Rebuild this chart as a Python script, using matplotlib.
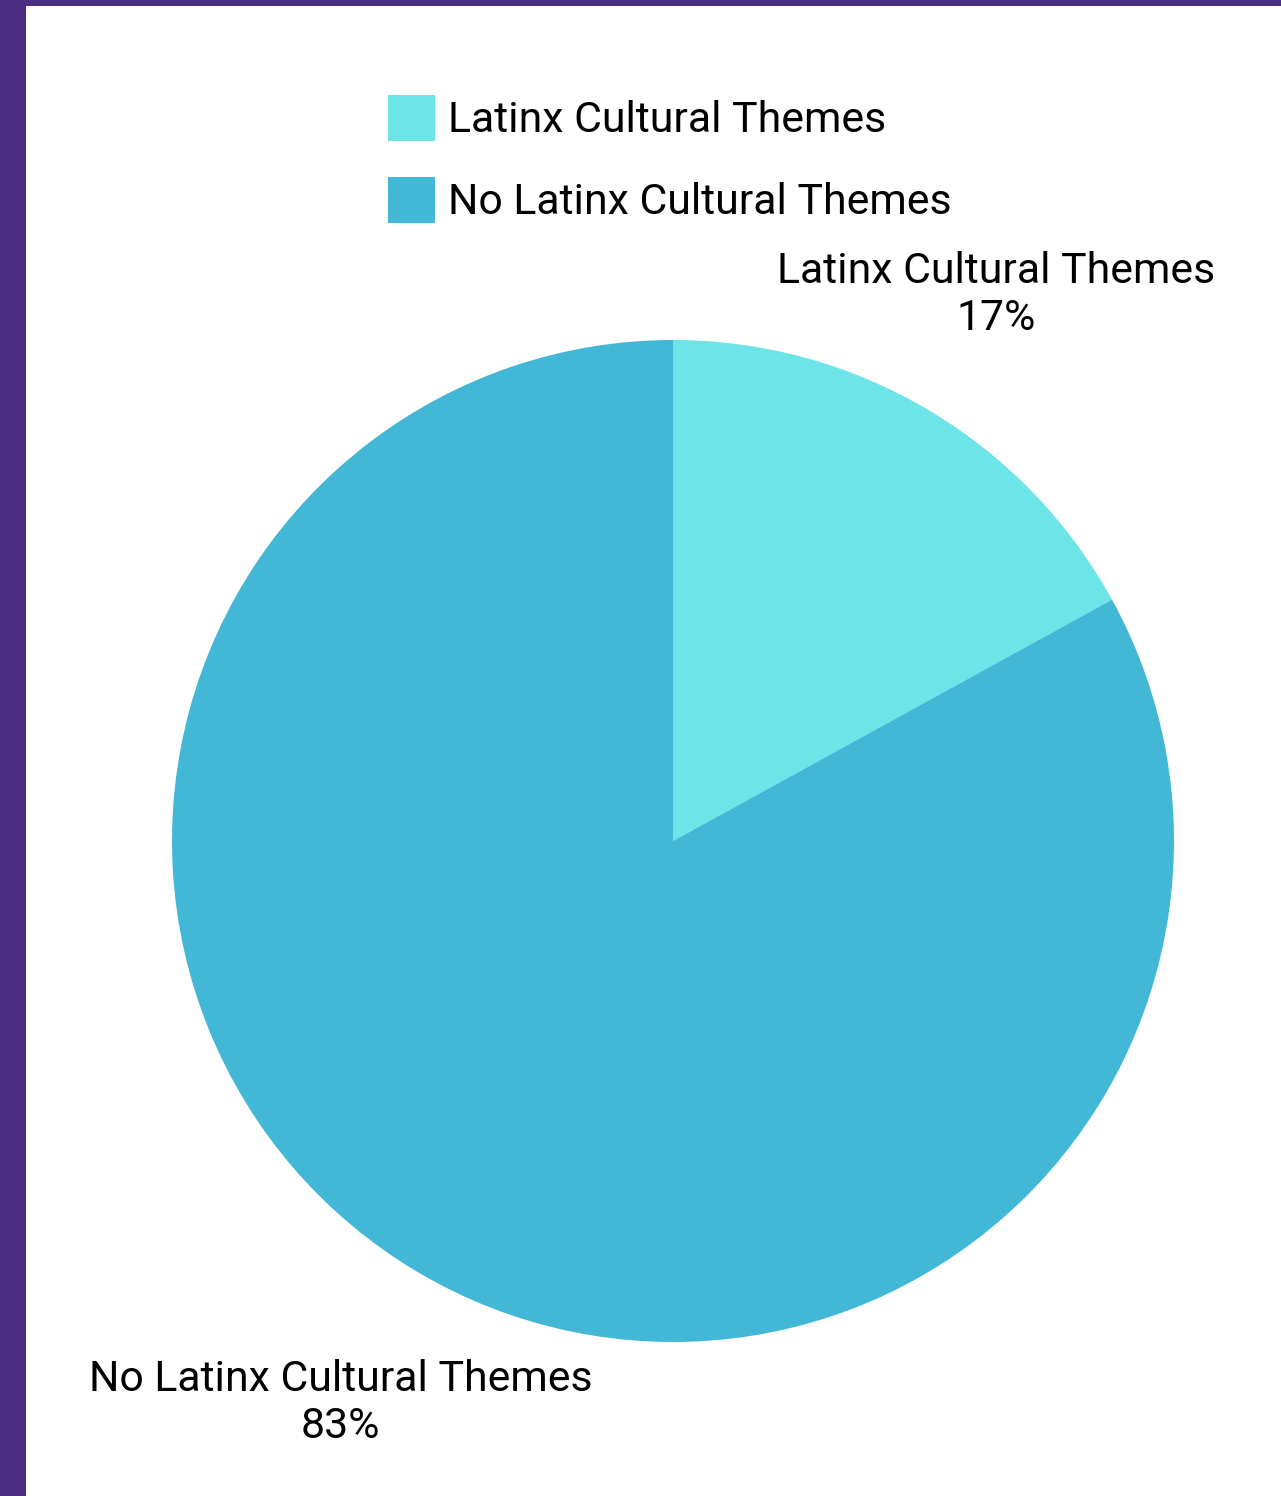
import numpy as np
import matplotlib.pyplot as plt
from matplotlib.patches import Rectangle

categories = ['Latinx Cultural Themes', 'No Latinx Cultural Themes']
shares = [17, 83]
colors = ['#6CE4E8', '#42B7D6']
border = '#4B2D82'

W, H = 1281, 1496
FS = 30.8
plt.rcParams['font.family'] = ['Roboto', 'DejaVu Sans']

fig = plt.figure(figsize=(W / 100, H / 100), dpi=100, facecolor='white')

# purple frame along the left and top edges
fig.patches.append(Rectangle((0, 0), 26 / W, 1, transform=fig.transFigure,
                             facecolor=border, edgecolor='none', zorder=0))
fig.patches.append(Rectangle((0, 1 - 6 / H), 1, 6 / H, transform=fig.transFigure,
                             facecolor=border, edgecolor='none', zorder=0))

cx, cy, r = 673, 841, 501
ax = fig.add_axes([(cx - r) / W, (H - cy - r) / H, 2 * r / W, 2 * r / H])

labels = [f'{c}\n{v}%' for c, v in zip(categories, shares)]
wedges, texts = ax.pie(shares, colors=colors, startangle=90, counterclock=False,
                       labels=labels, labeldistance=1.28,
                       wedgeprops=dict(linewidth=0),
                       textprops=dict(fontsize=FS, color='black'))

# push each label out along its wedge's mid angle
for w, t, d in zip(wedges, texts, [1.266, 1.303]):
    ang = np.deg2rad((w.theta1 + w.theta2) / 2)
    t.set_position((d * np.cos(ang), d * np.sin(ang)))
    t.set_ha('center')
    t.set_va('center')
    t.set_multialignment('center')
    t.set_linespacing(1.17)
ax.set_xlim(-1, 1)
ax.set_ylim(-1, 1)
ax.set_aspect('equal')

fig.legend(wedges, categories, loc='upper left',
           bbox_to_anchor=(388 / W, 1 - 95 / H), bbox_transform=fig.transFigure,
           frameon=False, fontsize=FS, handlelength=1.1, handleheight=1.277,
           handletextpad=0.3, labelspacing=0.83, borderpad=0, borderaxespad=0)

fig.savefig('out.png', dpi=100, facecolor='white')
